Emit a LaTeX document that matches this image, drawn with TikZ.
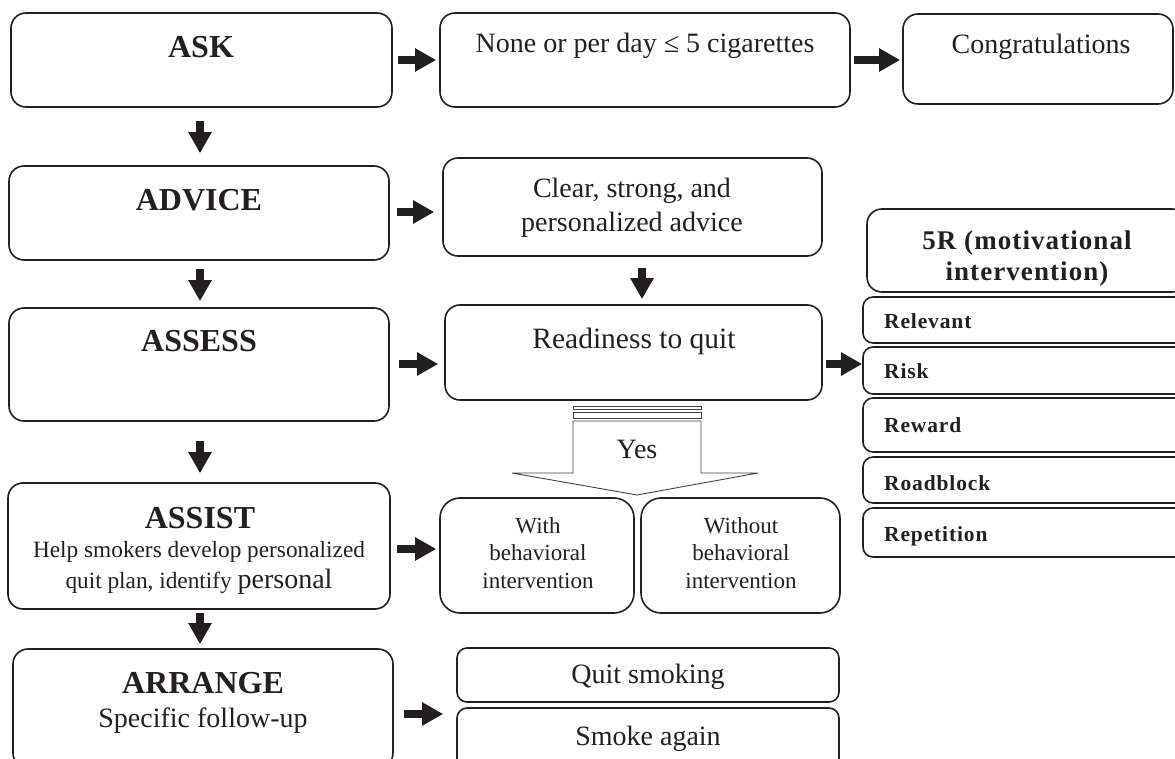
\documentclass[tikz,border=0pt]{standalone}
\usepackage{fontspec}
\setmainfont{Liberation Serif}
\newfontfamily\spbold[LetterSpace=4]{Liberation Serif}
\usetikzlibrary{arrows.meta,fit}
\definecolor{ink}{HTML}{231F20}
\tikzset{
  box/.style={draw=ink, line width=1.6pt, rounded corners=15pt, inner sep=0pt},
  smallbox/.style={box, rounded corners=10pt},
  rbox/.style={box, rounded corners=20pt},
  barrow/.style={draw=ink, line width=8pt, -{Triangle[length=21pt,width=22pt]}},
  head/.style={font=\fontsize{32}{38}\selectfont\bfseries, anchor=base, inner sep=0pt, text=ink},
  txt/.style={font=\fontsize{28}{34}\selectfont, anchor=base, inner sep=0pt, text=ink, align=center},
  small/.style={font=\fontsize{23.3}{31}\selectfont, anchor=base, inner sep=0pt, text=ink, align=center},
  wtxt/.style={font=\fontsize{23}{27.5}\selectfont, anchor=base, inner sep=0pt, text=ink, align=center},
  rtxt/.style={font=\fontsize{21.5}{24}\spbold\bfseries, anchor=base west, inner sep=0pt, text=ink},
  ttxt/.style={font=\fontsize{27}{32}\spbold\bfseries, anchor=base, inner sep=0pt, text=ink, align=center},
  yesarrow/.style={draw=ink!85, line width=0.9pt, fill=white}
}
\begin{document}
\begin{tikzpicture}[x=1pt,y=-1pt]
\useasboundingbox (0,0) rectangle (1175,759);
\clip (0,0) rectangle (1175,759);
% left column
\node[box, fit={(11,13)(392,107)}] (ask) {};
\node[head] (askt) at (201,58) {ASK};
\node[box, fit={(9,166)(389,260)}] (advice) {};
\node[head] (advicet) at (199,211) {ADVICE};
\node[box, fit={(9,308)(389,421)}] (assess) {};
\node[head] (assesst) at (199,351) {ASSESS};
\node[box, fit={(8,483)(390,609)}] (assist) {};
\node[head] (assistt) at (200,528) {ASSIST};
\node[small] (assistb) at (199,588) {Help smokers develop personalized\\quit plan, identify {\fontsize{28}{30}\selectfont personal}};
\node[box, fit={(13,649)(393,768)}] (arrange) {};
\node[head] (arranget) at (203,693) {ARRANGE};
\node[txt] (arrangeb) at (203,727) {Specific follow-up};
% middle column
\node[box, fit={(440,13)(850,107)}] (none) {};
\node[txt] (nonet) at (645,53) {None or per day ≤ 5 cigarettes};
\node[box, fit={(903,14)(1173,104)}] (congr) {};
\node[txt] (congrt) at (1041,54) {Congratulations};
\node[box, fit={(443,158)(822,256)}] (clear) {};
\node[txt] (cleart) at (632,232) {Clear, strong, and\\personalized advice};
\node[box, fit={(445,305)(822,400)}] (ready) {};
\node[txt, font=\fontsize{29.5}{34}\selectfont] (readyt) at (634,348) {Readiness to quit};
% Yes arrow
\draw[yesarrow] (573,406) rectangle (701,409);
\draw[yesarrow] (573,412) rectangle (701,418);
\draw[yesarrow] (573,421) -- (573,473) -- (512,473) -- (637,495) -- (758,473) -- (701,473) -- (701,421) -- cycle;
\node[txt] (yes) at (637,458) {Yes};
\node[rbox, fit={(440,498)(634,613)}] (with) {};
\node[wtxt] (witht) at (538,588) {With\\behavioral\\intervention};
\node[rbox, fit={(641,498)(840,613)}] (without) {};
\node[wtxt] (withoutt) at (741,588) {Without\\behavioral\\intervention};
\node[smallbox, fit={(457,648)(839,702)}] (quit) {};
\node[txt] (quitt) at (648,683) {Quit smoking};
\node[smallbox, fit={(457,708)(839,770)}] (smoke) {};
\node[txt] (smoket) at (648,745) {Smoke again};
% right column
\node[box, fit={(867,209)(1187,292)}] (fiver) {};
\node[ttxt] (fivert) at (1027,281) {5R (motivational\\intervention)};
\node[smallbox, fit={(863,297)(1190,343)}] (relevant) {};
\node[rtxt] at (884,328) {Relevant};
\node[smallbox, fit={(863,347)(1190,394)}] (risk) {};
\node[rtxt] at (884,378) {Risk};
\node[smallbox, fit={(863,398)(1190,452)}] (reward) {};
\node[rtxt] at (884,432) {Reward};
\node[smallbox, fit={(863,457)(1190,503)}] (roadblock) {};
\node[rtxt] at (884,490) {Roadblock};
\node[smallbox, fit={(863,508)(1190,557)}] (repetition) {};
\node[rtxt] at (884,541) {Repetition};
% vertical arrows
\draw[barrow, shorten <=13pt, shorten >=12pt] (ask.south -| 200,0) -- (advice.north -| 200,0);
\draw[barrow, shorten <=8pt, shorten >=6pt] (advice.south -| 200,0) -- (assess.north -| 200,0);
\draw[barrow, shorten <=19pt, shorten >=9pt] (assess.south -| 200,0) -- (assist.north -| 200,0);
\draw[barrow, shorten <=3pt, shorten >=4pt] (assist.south -| 200,0) -- (arrange.north -| 200,0);
\draw[barrow, shorten <=11pt, shorten >=5pt] (clear.south -| 642,0) -- (ready.north -| 642,0);
% horizontal arrows
\draw[barrow, shorten <=5pt, shorten >=3pt] (ask.east) -- (none.west);
\draw[barrow, shorten <=3pt, shorten >=2pt] (none.east |- 0,60) -- (congr.west |- 0,60);
\draw[barrow, shorten <=7pt, shorten >=8pt] (advice.east |- 0,212) -- (clear.west |- 0,212);
\draw[barrow, shorten <=9pt, shorten >=6pt] (assess.east |- 0,364) -- (ready.west |- 0,364);
\draw[barrow, shorten <=6pt, shorten >=3pt] (assist.east |- 0,549) -- (with.west |- 0,549);
\draw[barrow, shorten <=10pt, shorten >=13pt] (arrange.east |- 0,714) -- (quit.west |- 0,714);
\draw[barrow, shorten <=3pt, shorten >=0pt] (ready.east |- 0,364) -- (risk.west |- 0,364);
\end{tikzpicture}
\end{document}
